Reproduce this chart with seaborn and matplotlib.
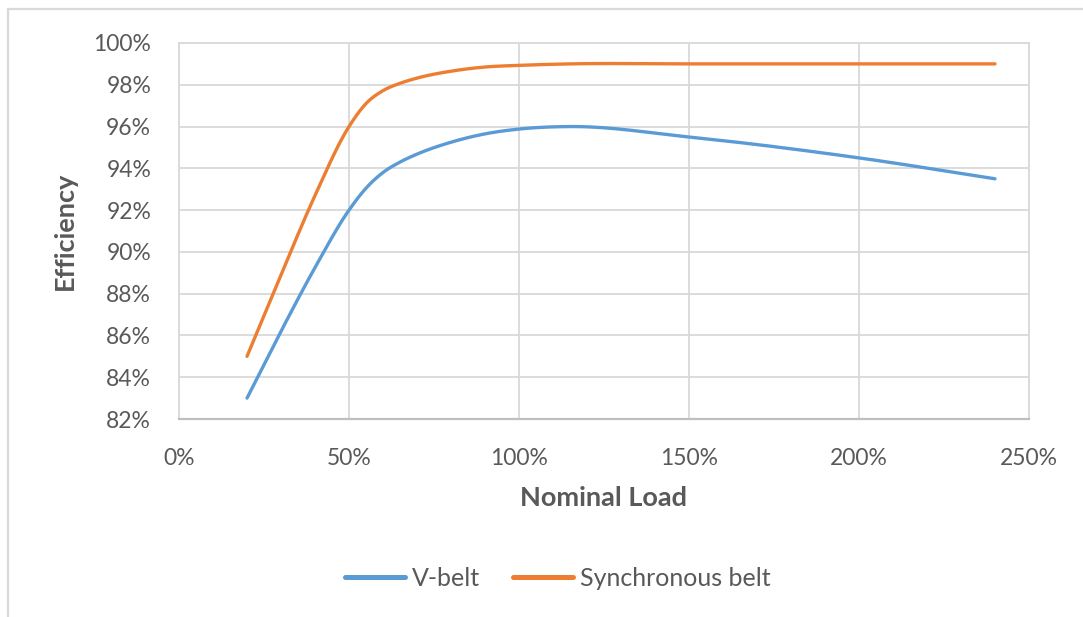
import numpy as np
import pandas as pd
import matplotlib
matplotlib.use("Agg")
import matplotlib.pyplot as plt
from matplotlib.lines import Line2D
from matplotlib.ticker import FuncFormatter
import seaborn as sns

# Belt drive efficiency versus nominal load (percent)
load_pct = [20, 30, 40, 50, 55, 60, 65, 70, 80, 90, 100, 115, 150, 200, 240]
v_belt = [83.0, 86.2, 89.25, 92.0, 93.05, 93.8, 94.3, 94.68, 95.25, 95.65, 95.88, 96.0, 95.5, 94.5, 93.5]
sync_belt = [85.0, 88.9, 92.7, 96.0, 97.1, 97.72, 98.07, 98.32, 98.65, 98.85, 98.93, 99.0, 99.0, 99.0, 99.0]
series_names = ["V-belt", "Synchronous belt"]
x_ticks = [0, 50, 100, 150, 200, 250]
y_ticks = [82, 84, 86, 88, 90, 92, 94, 96, 98, 100]

TEXT = "#595959"
GRID = "#D9D9D9"
COLORS = ["#5B9BD5", "#ED7D31"]


def smooth(xs, ys, steps=40):
    """Smoothed line: cubic Hermite curve through every point."""
    xs = np.asarray(xs, float)
    ys = np.asarray(ys, float)
    n = len(xs)
    d = np.diff(ys) / np.diff(xs)
    h = np.diff(xs)
    m = np.empty(n)
    m[0], m[-1] = d[0], d[-1]
    # weighted three-point slopes keep the curve smooth with uneven spacing
    for i in range(1, n - 1):
        m[i] = (h[i] * d[i - 1] + h[i - 1] * d[i]) / (h[i - 1] + h[i])
    ox, oy = [], []
    for i in range(n - 1):
        t = np.linspace(0, 1, steps, endpoint=(i == n - 2))
        h00 = 2 * t**3 - 3 * t**2 + 1
        h10 = t**3 - 2 * t**2 + t
        h01 = -2 * t**3 + 3 * t**2
        h11 = t**3 - t**2
        ox.append(xs[i] + t * h[i])
        oy.append(h00 * ys[i] + h10 * h[i] * m[i] + h01 * ys[i + 1] + h11 * h[i] * m[i + 1])
    return np.concatenate(ox), np.concatenate(oy)


frames = []
for name, vals in zip(series_names, [v_belt, sync_belt]):
    sx, sy = smooth(load_pct, vals)
    frames.append(pd.DataFrame({"load": sx, "eff": sy, "series": name}))
df = pd.concat(frames, ignore_index=True)

sns.set_theme(style="white")
plt.rcParams["font.family"] = ["Lato", "DejaVu Sans"]

fig = plt.figure(figsize=(10.83, 6.17), dpi=100)
ax = fig.add_axes([179 / 1083, 1 - 419 / 617, (1029 - 179) / 1083, (419 - 43) / 617])

sns.lineplot(data=df, x="load", y="eff", hue="series", hue_order=series_names,
             palette=COLORS, sort=False, estimator=None, units="series",
             linewidth=2.4, ax=ax, legend=False, solid_capstyle="round")

ax.set_xlim(0, 250)
ax.set_ylim(82, 100)
ax.set_xticks(x_ticks)
ax.set_yticks(y_ticks)
ax.xaxis.set_major_formatter(FuncFormatter(lambda v, _: f"{v:.0f}%"))
ax.yaxis.set_major_formatter(FuncFormatter(lambda v, _: f"{v:.0f}%"))
ax.grid(True, color=GRID, linewidth=1.3)
ax.set_axisbelow(True)
for side in ["top", "right", "left", "bottom"]:
    ax.spines[side].set_visible(True)
    ax.spines[side].set_color(GRID)
    ax.spines[side].set_linewidth(1.3)
ax.spines["bottom"].set_color("#BFBFBF")
ax.spines["bottom"].set_linewidth(1.6)
ax.tick_params(axis="both", length=0, labelsize=16.5, labelcolor=TEXT)
ax.tick_params(axis="y", pad=20)
ax.tick_params(axis="x", pad=21)

ax.set_xlabel("Nominal Load", fontsize=19.5, fontweight="bold", color=TEXT, labelpad=12)
ax.set_ylabel("Efficiency", fontsize=19.5, fontweight="bold", color=TEXT, labelpad=12)

handles = [Line2D([], [], color=c, linewidth=3.6) for c in COLORS]
fig.legend(handles, series_names, loc="center", bbox_to_anchor=(558 / 1083, 1 - 578 / 617),
           ncol=2, frameon=False, fontsize=18, labelcolor=TEXT,
           handlelength=2.4, handletextpad=0.28, columnspacing=1.3)

# Chart-area frame (top and left edges)
fig.add_artist(Line2D([8 / 1083, 1.0], [1 - 9 / 617, 1 - 9 / 617], transform=fig.transFigure,
                      color=GRID, linewidth=1.6))
fig.add_artist(Line2D([8 / 1083, 8 / 1083], [0.0, 1 - 9 / 617], transform=fig.transFigure,
                      color=GRID, linewidth=1.6))

fig.savefig("out.png", dpi=100, facecolor="white")
